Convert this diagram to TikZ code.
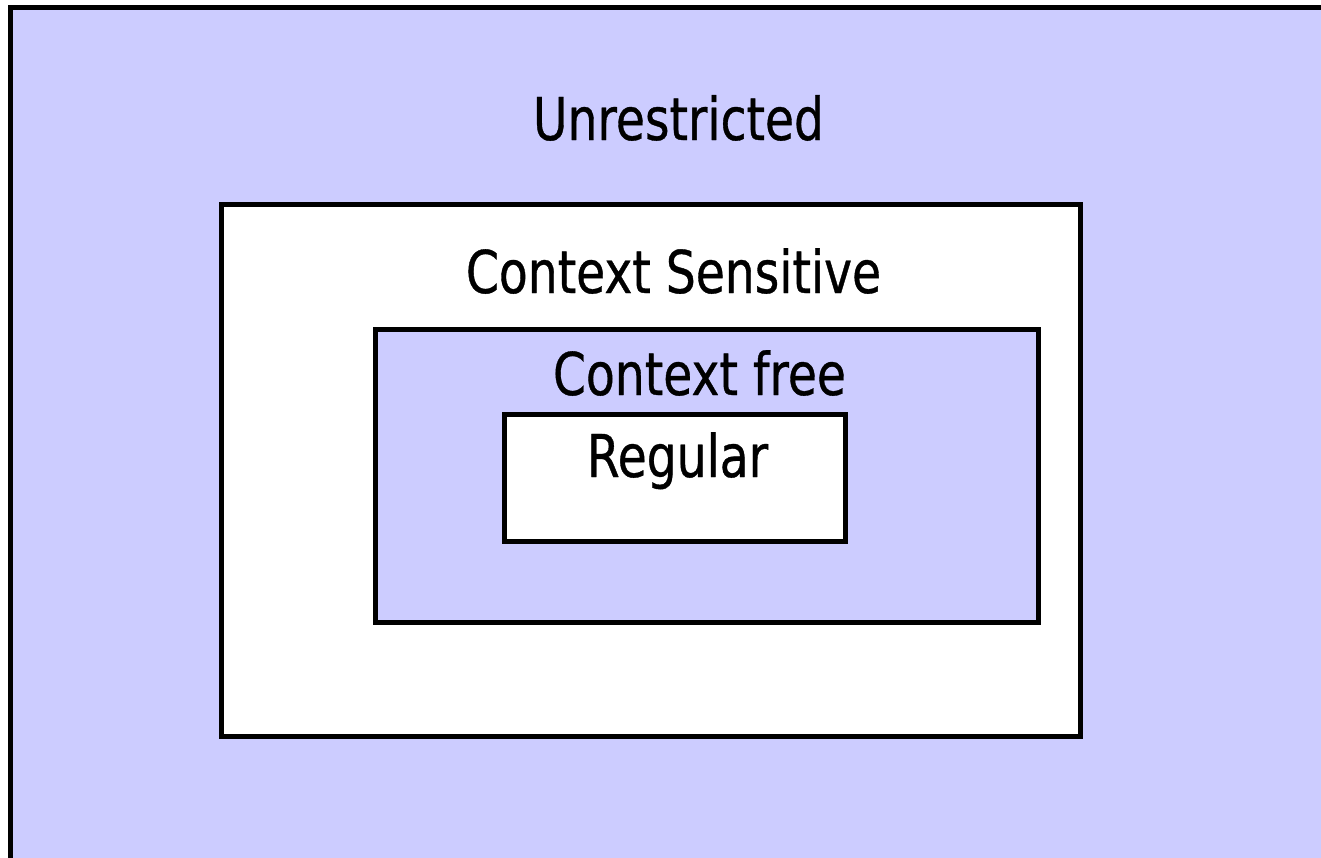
\documentclass[tikz,border=0pt]{standalone}
\usepackage{fontspec}
\newfontfamily\dfont[FakeStretch=0.8,FakeBold=0.6]{DejaVu Sans}
\definecolor{lav}{HTML}{CCCCFF}
\begin{document}
\begin{tikzpicture}[x=1pt,y=-1pt,
  box/.style={draw=black,line width=5pt},
  lbl/.style={font=\dfont\fontsize{59}{60}\selectfont,anchor=base,inner sep=0pt}]
\useasboundingbox (0,0) rectangle (1321,857);
\clip (0,0) rectangle (1321,857);
\fill[white] (0,0) rectangle (1321,857);
\path[box,fill=lav] (10.5,7.5) rectangle (1340,880);
\path[box,fill=white] (221.5,204.5) rectangle (1080.5,736);
\path[box,fill=lav] (375.5,329.5) rectangle (1038,622);
\path[box,fill=white] (504,414) rectangle (845,541);
\node[lbl] (u) at (678.5,140) {Unrestricted};
\node[lbl] (cs) at (673.5,293) {Context Sensitive};
\node[lbl] (cf) at (699.5,395) {Context free};
\node[lbl] (r) at (677.5,477) {Regular};
\end{tikzpicture}
\end{document}
